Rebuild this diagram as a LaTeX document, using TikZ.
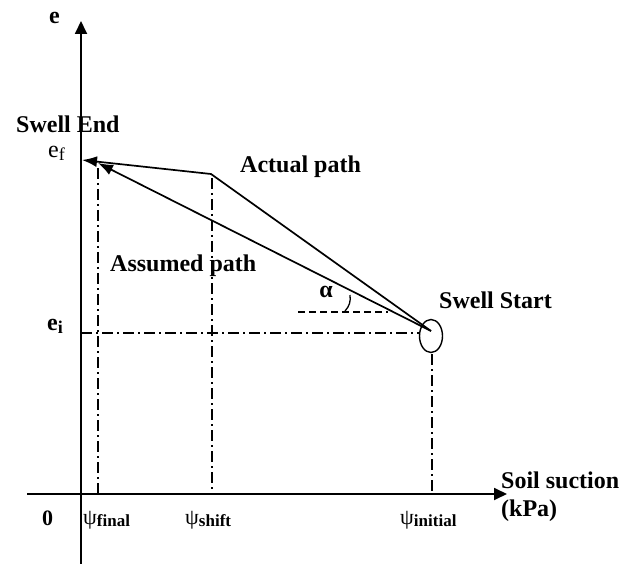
\documentclass[tikz,border=0pt]{standalone}
\usepackage{fontspec}
\setmainfont{Liberation Serif}
\usetikzlibrary{arrows.meta,shapes.geometric}
\begin{document}
\begin{tikzpicture}[x=1pt,y=-1pt,
  axis/.style={line width=1.8pt,-{Triangle[length=13pt,width=12pt]}},
  pathline/.style={line width=1.7pt,-{Latex[length=15pt,width=11pt]}},
  dashdot/.style={line width=1.4pt,dash pattern=on 11pt off 4pt on 2pt off 4pt},
  shortdash/.style={line width=1.4pt,dash pattern=on 7pt off 4pt},
  lbl/.style={inner sep=0pt,anchor=base west,font=\fontsize{24}{26}\selectfont\bfseries},
  plain/.style={inner sep=0pt,anchor=base west,font=\fontsize{24}{26}\selectfont},
  psilbl/.style={inner sep=0pt,anchor=base west,font=\fontsize{22}{24}\selectfont}]
\useasboundingbox (0,0) rectangle (632,564);
% key points
\coordinate (ybot) at (81,564);
\coordinate (ytop) at (81,21);
\coordinate (xleft) at (27,494);
\coordinate (xright) at (507,494);
\coordinate (start) at (431,331);
\coordinate (kink) at (211,174);
\coordinate (endA) at (82,160);
\coordinate (endB) at (98,163);
\coordinate (fin0) at (98,168);
\coordinate (finB) at (98,494);
\coordinate (sh0) at (212,178);
\coordinate (shB) at (212,494);
\coordinate (in0) at (432,354);
\coordinate (inB) at (432,494);
\coordinate (ei0) at (81,333);
\coordinate (ei1) at (419,333);
\coordinate (d0) at (298,312);
\coordinate (d1) at (388,312);
\coordinate (a0) at (345,311);
\coordinate (a1) at (350,295);
% axes
\draw[axis] (ybot) -- (ytop);
\draw[axis] (xleft) -- (xright);
% guide lines
\draw[dashdot] (ei0) -- (ei1);
\draw[dashdot] (fin0) -- (finB);
\draw[dashdot] (sh0) -- (shB);
\draw[dashdot] (in0) -- (inB);
\draw[shortdash] (d0) -- (d1);
% start ellipse
\node[draw,line width=1.4pt,ellipse,minimum width=23pt,minimum height=33pt,inner sep=0pt] (circ) at (431,336) {};
% paths
\draw[pathline,line join=round] (start) -- (kink) -- (endA);
\draw[pathline] (start) -- (endB);
% angle arc
\draw[line width=1.3pt] (a0) to[bend right=25] (a1);
% labels
\node[lbl] (ylab) at (49,24) {e};
\node[lbl] (swellend) at (16,133) {Swell End};
\node[plain] (ef) at (48,158) {e\raisebox{-3pt}{\fontsize{18}{18}\selectfont f}};
\node[plain] (ei) at (47,330) {\textbf{e}\raisebox{-3pt}{\fontsize{18}{18}\selectfont\bfseries i}};
\node[lbl] (actual) at (240,173) {Actual path};
\node[lbl] (assumed) at (110,272) {Assumed path};
\node[lbl] (swellstart) at (439,308) {Swell Start};
\node[inner sep=0pt,font=\fontsize{24}{26}\selectfont\bfseries] (alpha) at (326,292) {α};
\node[lbl] (soil) at (501,488) {Soil suction};
\node[lbl] (kpa) at (501,516) {(kPa)};
\node[inner sep=0pt,anchor=base west,font=\fontsize{22}{24}\selectfont\bfseries] (zero) at (42,525) {0};
\node[psilbl] (psif) at (83,524) {ψ\raisebox{-2pt}{\fontsize{17}{18}\selectfont\bfseries final}};
\node[psilbl] (psis) at (185,524) {ψ\raisebox{-2pt}{\fontsize{17}{18}\selectfont\bfseries shift}};
\node[psilbl] (psii) at (400,524) {ψ\raisebox{-2pt}{\fontsize{17}{18}\selectfont\bfseries initial}};
\end{tikzpicture}
\end{document}
